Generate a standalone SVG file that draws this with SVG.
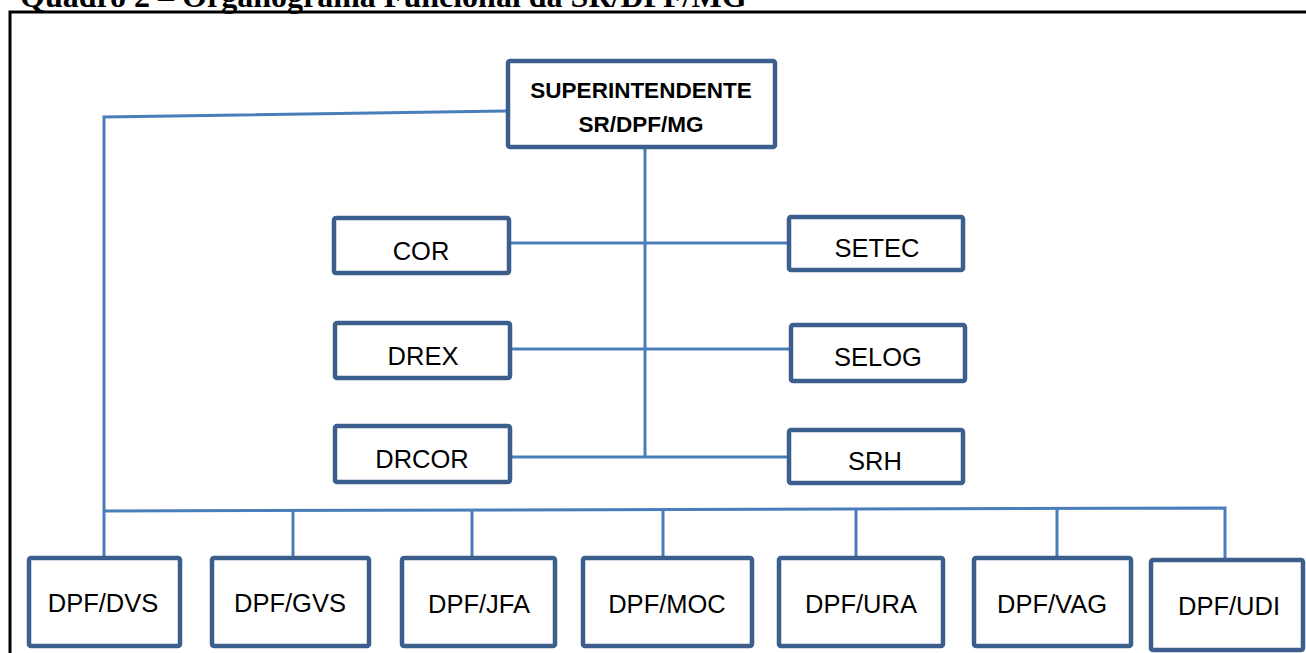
<svg xmlns="http://www.w3.org/2000/svg" width="1306" height="653" viewBox="0 0 1306 653">
<style>
.box{fill:#fff;stroke:#3B5E8C;stroke-width:4.5}
.lbl{font-family:"Liberation Sans",Arial,sans-serif;font-size:25.5px;fill:#000;text-anchor:middle}
.b{font-weight:bold;font-size:22.5px}
.con{fill:none;stroke:#4A7EBB;stroke-width:3}
.title{font-family:"Liberation Serif","Times New Roman",serif;font-weight:bold;font-size:32px;fill:#000}
</style>
<rect width="1306" height="653" fill="#fff"/>
<text class="title" x="20" y="7">Quadro 2 – Organograma Funcional da SR/DPF/MG</text>
<path d="M10,653 V12 H1306" fill="none" stroke="#000" stroke-width="3"/>
<g id="connectors">
<path class="con" d="M506,111 L104,117 V557"/>
<path class="con" d="M645,149 V457"/>
<path class="con" d="M510,243 H787"/>
<path class="con" d="M512,349 H789"/>
<path class="con" d="M510,457 H787"/>
<path class="con" d="M104,511 L1225,508 V558"/>
<path class="con" d="M293,511 V556 M472,510.5 V556 M663,510 V556 M856,509.5 V556 M1057,509 V556"/>
</g>
<g id="superintendente"><rect class="box" x="508" y="61" width="267" height="86" rx="2"/><text class="lbl b" x="641" y="98">SUPERINTENDENTE</text><text class="lbl b" x="641" y="132">SR/DPF/MG</text></g>
<g id="cor"><rect class="box" x="334" y="218" width="175" height="55" rx="2"/><text class="lbl" x="421" y="260">COR</text></g>
<g id="drex"><rect class="box" x="335" y="323" width="175" height="55" rx="2"/><text class="lbl" x="423" y="365">DREX</text></g>
<g id="drcor"><rect class="box" x="335" y="426" width="175" height="56" rx="2"/><text class="lbl" x="422" y="468">DRCOR</text></g>
<g id="setec"><rect class="box" x="789" y="217" width="174" height="53" rx="2"/><text class="lbl" x="877" y="257">SETEC</text></g>
<g id="selog"><rect class="box" x="791" y="325" width="174" height="56" rx="2"/><text class="lbl" x="878" y="366">SELOG</text></g>
<g id="srh"><rect class="box" x="789" y="430" width="174" height="53" rx="2"/><text class="lbl" x="875" y="470">SRH</text></g>
<g id="dvs"><rect class="box" x="29" y="558" width="151" height="88" rx="2"/><text class="lbl" x="103" y="612">DPF/DVS</text></g>
<g id="gvs"><rect class="box" x="212" y="558" width="157" height="88" rx="2"/><text class="lbl" x="290" y="612">DPF/GVS</text></g>
<g id="jfa"><rect class="box" x="402" y="558" width="153" height="88" rx="2"/><text class="lbl" x="479" y="613">DPF/JFA</text></g>
<g id="moc"><rect class="box" x="583" y="558" width="169" height="88" rx="2"/><text class="lbl" x="667" y="613">DPF/MOC</text></g>
<g id="ura"><rect class="box" x="779" y="558" width="164" height="88" rx="2"/><text class="lbl" x="861" y="613">DPF/URA</text></g>
<g id="vag"><rect class="box" x="974" y="558" width="157" height="88" rx="2"/><text class="lbl" x="1052" y="613">DPF/VAG</text></g>
<g id="udi"><rect class="box" x="1151" y="560" width="152" height="90" rx="2"/><text class="lbl" x="1229" y="615">DPF/UDI</text></g>
</svg>
